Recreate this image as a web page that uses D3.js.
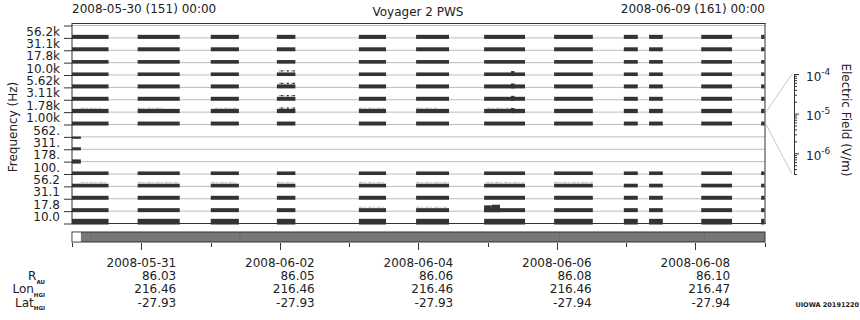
<!DOCTYPE html>
<html lang="en">
<head>
<meta charset="utf-8">
<title>Voyager 2 PWS</title>
<script src="https://d3js.org/d3.v7.min.js"></script>
<style>
  body { margin: 0; background: #fff; }
  svg text { font-family: "DejaVu Sans", sans-serif; fill: #222; }
</style>
</head>
<body>
<div id="chart"></div>
<script>
// frequency channels, top to bottom
var freqLabels = ["56.2k","31.1k","17.8k","10.0k","5.62k","3.11k","1.78k","1.00k",
                  "562.","311.","178.","100.","56.2","31.1","17.8","10.0"];

// upper level of the background trace in each channel (V/m), null = no data
var bandLevel = [1.25e-6, 1.2e-6, 1.0e-6, 1.0e-6, 1.2e-6, 1.2e-6, 1.4e-6, 1.2e-6,
                 null, null, null, 1.0e-6, 1.05e-6, 1.2e-6, 1.2e-6, 2.7e-6];
var floorLevel = 1.85e-7;

// data intervals (UTC)
var segments = [
  ["2008-05-30T00:00", "2008-05-30T12:40"],
  ["2008-05-30T22:45", "2008-05-31T13:20"],
  ["2008-06-01T00:05", "2008-06-01T09:50"],
  ["2008-06-01T23:00", "2008-06-02T05:25"],
  ["2008-06-03T03:25", "2008-06-03T12:50"],
  ["2008-06-03T23:15", "2008-06-04T10:40"],
  ["2008-06-04T22:50", "2008-06-05T13:00"],
  ["2008-06-05T23:05", "2008-06-06T12:30"],
  ["2008-06-06T23:15", "2008-06-07T04:05"],
  ["2008-06-07T08:00", "2008-06-07T12:45"],
  ["2008-06-08T02:05", "2008-06-08T12:45"],
  ["2008-06-08T22:50", "2008-06-09T00:00"]
];

// short low-frequency traces: channel, start, end, low, high
var shortBars = [
  ["562.", "2008-05-30T00:00", "2008-05-30T03:05", 1.2e-7, 3.5e-7],
  ["311.", "2008-05-30T00:00", "2008-05-30T03:05", 1.8e-7, 7.5e-7],
  ["178.", "2008-05-30T00:00", "2008-05-30T03:05", 1.2e-7, 8.5e-7]
];

// faint noise above the trace: channel, start, end
var fuzz = [
  ["1.78k", "2008-05-30T03:00", "2008-05-30T10:00"],
  ["1.78k", "2008-05-30T22:45", "2008-05-31T07:30"],
  ["1.78k", "2008-06-01T01:30", "2008-06-01T09:30"],
  ["1.78k", "2008-06-03T03:25", "2008-06-03T12:30"],
  ["1.78k", "2008-06-03T23:15", "2008-06-04T06:30"],
  ["1.78k", "2008-06-04T23:50", "2008-06-05T09:00"],
  ["56.2", "2008-05-30T03:00", "2008-05-30T12:00"],
  ["56.2", "2008-05-30T22:45", "2008-05-31T13:00"],
  ["56.2", "2008-06-01T00:05", "2008-06-01T09:20"],
  ["56.2", "2008-06-01T23:00", "2008-06-02T05:20"],
  ["56.2", "2008-06-03T03:25", "2008-06-03T12:40"],
  ["56.2", "2008-06-03T23:15", "2008-06-04T10:40"],
  ["56.2", "2008-06-04T23:30", "2008-06-05T12:40"],
  ["56.2", "2008-06-05T23:05", "2008-06-06T12:30"],
  ["17.8", "2008-06-03T03:25", "2008-06-03T12:40"],
  ["17.8", "2008-06-03T23:15", "2008-06-04T10:20"]
];

// speckled tops: channel, start, end
var dotted = [
  ["10.0k", "2008-06-01T23:40", "2008-06-02T05:25"],
  ["5.62k", "2008-06-01T23:40", "2008-06-02T05:25"],
  ["3.11k", "2008-06-01T23:40", "2008-06-02T05:25"],
  ["1.78k", "2008-06-01T23:40", "2008-06-02T05:25"]
];

// raised activity: channel, start, end, level
var bursts = [
  ["17.8", "2008-06-04T22:50", "2008-06-05T01:30", 4.5e-6],
  ["17.8", "2008-06-05T01:30", "2008-06-05T04:20", 6e-6],
  ["10.0k", "2008-06-05T08:10", "2008-06-05T09:20", 1.9e-6],
  ["5.62k", "2008-06-05T08:10", "2008-06-05T09:20", 1.9e-6],
  ["3.11k", "2008-06-05T08:10", "2008-06-05T09:20", 1.9e-6],
  ["1.78k", "2008-06-05T08:10", "2008-06-05T09:20", 2.1e-6]
];

// coverage bar under the panel
var coverageWhite = ["2008-05-30T00:00", "2008-05-30T03:05"];
var coverageMarks = ["2008-05-30T06:45", "2008-06-01T10:10", "2008-06-06T00:55", "2008-06-08T03:10"];

// ephemeris rows
var dateTicks = ["2008-05-31", "2008-06-02", "2008-06-04", "2008-06-06", "2008-06-08"];
var rAU = ["86.03", "86.05", "86.06", "86.08", "86.10"];
var lonHGI = ["216.46", "216.46", "216.46", "216.46", "216.47"];
var latHGI = ["-27.93", "-27.93", "-27.93", "-27.94", "-27.94"];

var W = 860, H = 320;
var pLeft = 72, pRight = 765, pTop = 25.5, pBottom = 223.5;

var parse = d3.utcParse("%Y-%m-%dT%H:%M");
var parseDay = d3.utcParse("%Y-%m-%d");

var svg = d3.select("#chart").append("svg")
    .attr("width", W).attr("height", H);

var x = d3.scaleUtc()
    .domain([parseDay("2008-05-30"), parseDay("2008-06-09")])
    .range([pLeft, pRight - 0.5]);

var band = d3.scaleBand().domain(freqLabels).range([pTop, pBottom]);
var edge = d3.scaleLinear().domain([0, freqLabels.length]).range([pTop, pBottom]);

// value -> y inside one channel strip
function yIn(label) {
  var b = band(label);
  return d3.scaleLog().domain([3e-7, 1e-4]).range([b + band.bandwidth(), b]);
}

// grid lines at channel edges
svg.append("g").selectAll("line")
  .data(d3.range(freqLabels.length + 1))
  .enter().append("line")
    .attr("x1", pLeft).attr("x2", pRight)
    .attr("y1", function(d) { return edge(d); })
    .attr("y2", function(d) { return edge(d); })
    .attr("stroke", "#bcbcbc").attr("stroke-width", 1);

// faint gray noise (under the traces)
svg.append("g").selectAll("line")
  .data(fuzz)
  .enter().append("line")
    .attr("x1", function(d) { return x(parse(d[1])); })
    .attr("x2", function(d) { return x(parse(d[2])); })
    .attr("y1", function(d) { return yIn(d[0])(1.9e-6); })
    .attr("y2", function(d) { return yIn(d[0])(1.9e-6); })
    .attr("stroke", "#c2c2c2").attr("stroke-width", 1)
    .attr("stroke-dasharray", "4,1,2,2");

// background traces
var traces = [];
freqLabels.forEach(function(l, i) {
  if (bandLevel[i] == null) return;
  segments.forEach(function(s) { traces.push({band: l, t0: s[0], t1: s[1], lo: floorLevel, hi: bandLevel[i]}); });
});
shortBars.forEach(function(s) { traces.push({band: s[0], t0: s[1], t1: s[2], lo: s[3], hi: s[4]}); });

svg.append("g").selectAll("rect")
  .data(traces)
  .enter().append("rect")
    .attr("x", function(d) { return x(parse(d.t0)); })
    .attr("width", function(d) { return Math.max(1, x(parse(d.t1)) - x(parse(d.t0))); })
    .attr("y", function(d) { return yIn(d.band)(d.hi); })
    .attr("height", function(d) { return yIn(d.band)(d.lo) - yIn(d.band)(d.hi); })
    .attr("fill", "#333");

// bursts
svg.append("g").selectAll("rect")
  .data(bursts)
  .enter().append("rect")
    .attr("x", function(d) { return x(parse(d[1])); })
    .attr("width", function(d) { return x(parse(d[2])) - x(parse(d[1])); })
    .attr("y", function(d) { return yIn(d[0])(d[3]); })
    .attr("height", function(d) { return yIn(d[0])(floorLevel) - yIn(d[0])(d[3]); })
    .attr("fill", "#333");

// speckles
var dg = svg.append("g");
dg.selectAll("line.g")
  .data(dotted)
  .enter().append("line")
    .attr("x1", function(d) { return x(parse(d[1])); })
    .attr("x2", function(d) { return x(parse(d[2])); })
    .attr("y1", function(d) { return yIn(d[0])(2.0e-6); })
    .attr("y2", function(d) { return yIn(d[0])(2.0e-6); })
    .attr("stroke", "#aaa").attr("stroke-width", 1.2)
    .attr("stroke-dasharray", "2,2");
dg.selectAll("line.b")
  .data(dotted)
  .enter().append("line")
    .attr("x1", function(d) { return x(parse(d[1])) + 2; })
    .attr("x2", function(d) { return x(parse(d[2])); })
    .attr("y1", function(d) { return yIn(d[0])(2.0e-6); })
    .attr("y2", function(d) { return yIn(d[0])(2.0e-6); })
    .attr("stroke", "#333").attr("stroke-width", 1.2)
    .attr("stroke-dasharray", "2,4");

// panel frame
svg.append("line").attr("x1", pLeft).attr("x2", pRight + 0.5).attr("y1", 23.5).attr("y2", 23.5).attr("stroke", "#333");
svg.append("line").attr("x1", pLeft).attr("x2", pLeft).attr("y1", 23).attr("y2", pBottom + 0.5).attr("stroke", "#333");
svg.append("line").attr("x1", pRight).attr("x2", pRight).attr("y1", 23).attr("y2", pBottom + 0.5).attr("stroke", "#333");
svg.append("line").attr("x1", pLeft).attr("x2", pRight + 0.5).attr("y1", pBottom).attr("y2", pBottom).attr("stroke", "#333");

// left axis: ticks at channel edges, labels in the middle
var yEdges = svg.append("g").attr("transform", "translate(" + pLeft + ",0)")
  .call(d3.axisLeft(edge).tickValues(d3.range(freqLabels.length + 1)).tickSize(8).tickFormat(""));
yEdges.select(".domain").remove();
yEdges.selectAll(".tick line").attr("stroke", "#333");

var yLab = svg.append("g").attr("transform", "translate(" + pLeft + ",0)")
  .call(d3.axisLeft(band).tickSize(0).tickPadding(12));
yLab.select(".domain").remove();
yLab.selectAll("text")
  .attr("font-size", 12).attr("font-family", "DejaVu Sans").attr("fill", "#222");

svg.append("text")
  .attr("transform", "translate(17,127) rotate(-90)")
  .attr("text-anchor", "middle").attr("font-size", 12)
  .text("Frequency (Hz)");

// header
svg.append("text").attr("x", pLeft).attr("y", 13).attr("font-size", 12).text("2008-05-30 (151) 00:00");
svg.append("text").attr("x", 418).attr("y", 16).attr("text-anchor", "middle").attr("font-size", 12).text("Voyager 2 PWS");
svg.append("text").attr("x", pRight).attr("y", 13).attr("text-anchor", "end").attr("font-size", 12).text("2008-06-09 (161) 00:00");

// colour-bar axis for the 1.00k strip
var cTop = 74, cBot = 174, cX = 794;
var c = d3.scaleLog().domain([3e-7, 1e-4]).range([cBot, cTop]);
var ref = band("1.00k");
svg.append("line").attr("x1", pRight + 1).attr("y1", ref).attr("x2", cX - 2).attr("y2", cTop).attr("stroke", "#c8c8c8");
svg.append("line").attr("x1", pRight + 1).attr("y1", ref + band.bandwidth()).attr("x2", cX - 2).attr("y2", cBot).attr("stroke", "#c8c8c8");

var cAxis = svg.append("g").attr("transform", "translate(" + cX + ",0)")
  .call(d3.axisRight(c).ticks(10).tickSize(3).tickFormat(""));
cAxis.select(".domain").attr("stroke", "#333");
cAxis.selectAll(".tick line").attr("stroke", "#333")
  .attr("x2", function(d) { return Math.abs(Math.log10(d) - Math.round(Math.log10(d))) < 1e-6 ? 5 : 3; });

[-4, -5, -6].forEach(function(p) {
  var t = svg.append("text").attr("x", cX + 12).attr("y", c(Math.pow(10, p)) + 6.5).attr("font-size", 12);
  t.append("tspan").text("10");
  t.append("tspan").attr("dy", -6).attr("font-size", 9).text(String(p));
});

svg.append("text")
  .attr("transform", "translate(842,120) rotate(90)")
  .attr("text-anchor", "middle").attr("font-size", 12)
  .text("Electric Field (V/m)");

// coverage bar
var barY = 232, barH = 10;
svg.append("rect").attr("x", pLeft).attr("y", barY).attr("width", pRight - pLeft).attr("height", barH)
  .attr("fill", "#777").attr("stroke", "#333");
svg.append("rect").attr("x", pLeft + 0.5).attr("y", barY + 0.5)
  .attr("width", x(parse(coverageWhite[1])) - pLeft - 0.5).attr("height", barH - 1)
  .attr("fill", "#fff");
svg.append("g").selectAll("line")
  .data(coverageMarks)
  .enter().append("line")
    .attr("x1", function(d) { return x(parse(d)); })
    .attr("x2", function(d) { return x(parse(d)); })
    .attr("y1", barY + 0.5).attr("y2", barY + barH - 0.5)
    .attr("stroke", "#6a6a6a");

// time ticks
var days = d3.utcDay.range(parseDay("2008-05-30"), parseDay("2008-06-10"));
var majors = dateTicks.map(function(d) { return +parseDay(d); });
svg.append("g").selectAll("line")
  .data(days)
  .enter().append("line")
    .attr("x1", function(d) { return Math.round(x(d)) + 0.5; })
    .attr("x2", function(d) { return Math.round(x(d)) + 0.5; })
    .attr("y1", barY + barH + 1)
    .attr("y2", function(d) { return barY + barH + 1 + (majors.indexOf(+d) >= 0 ? 7 : 4); })
    .attr("stroke", "#333");

var rows = [dateTicks, rAU, lonHGI, latHGI];
rows.forEach(function(vals, r) {
  svg.append("g").selectAll("text")
    .data(vals)
    .enter().append("text")
      .attr("x", function(d, i) { return x(parseDay(dateTicks[i])) + 35; })
      .attr("y", 267 + r * 13.2)
      .attr("text-anchor", "end").attr("font-size", 12)
      .text(function(d) { return d; });
});

var rowNames = [["R", "AU"], ["Lon", "HGI"], ["Lat", "HGI"]];
rowNames.forEach(function(n, r) {
  var t = svg.append("text").attr("x", 45).attr("y", 280.2 + r * 13.2).attr("text-anchor", "end").attr("font-size", 12);
  t.append("tspan").text(n[0]);
  t.append("tspan").attr("dy", 3.5).attr("font-size", 5.5).attr("font-weight", "bold").text(n[1]);
});

svg.append("text").attr("x", 859).attr("y", 307).attr("text-anchor", "end")
  .attr("font-size", 6.5).attr("font-weight", "bold").text("UIOWA 20191220");
</script>
</body>
</html>
